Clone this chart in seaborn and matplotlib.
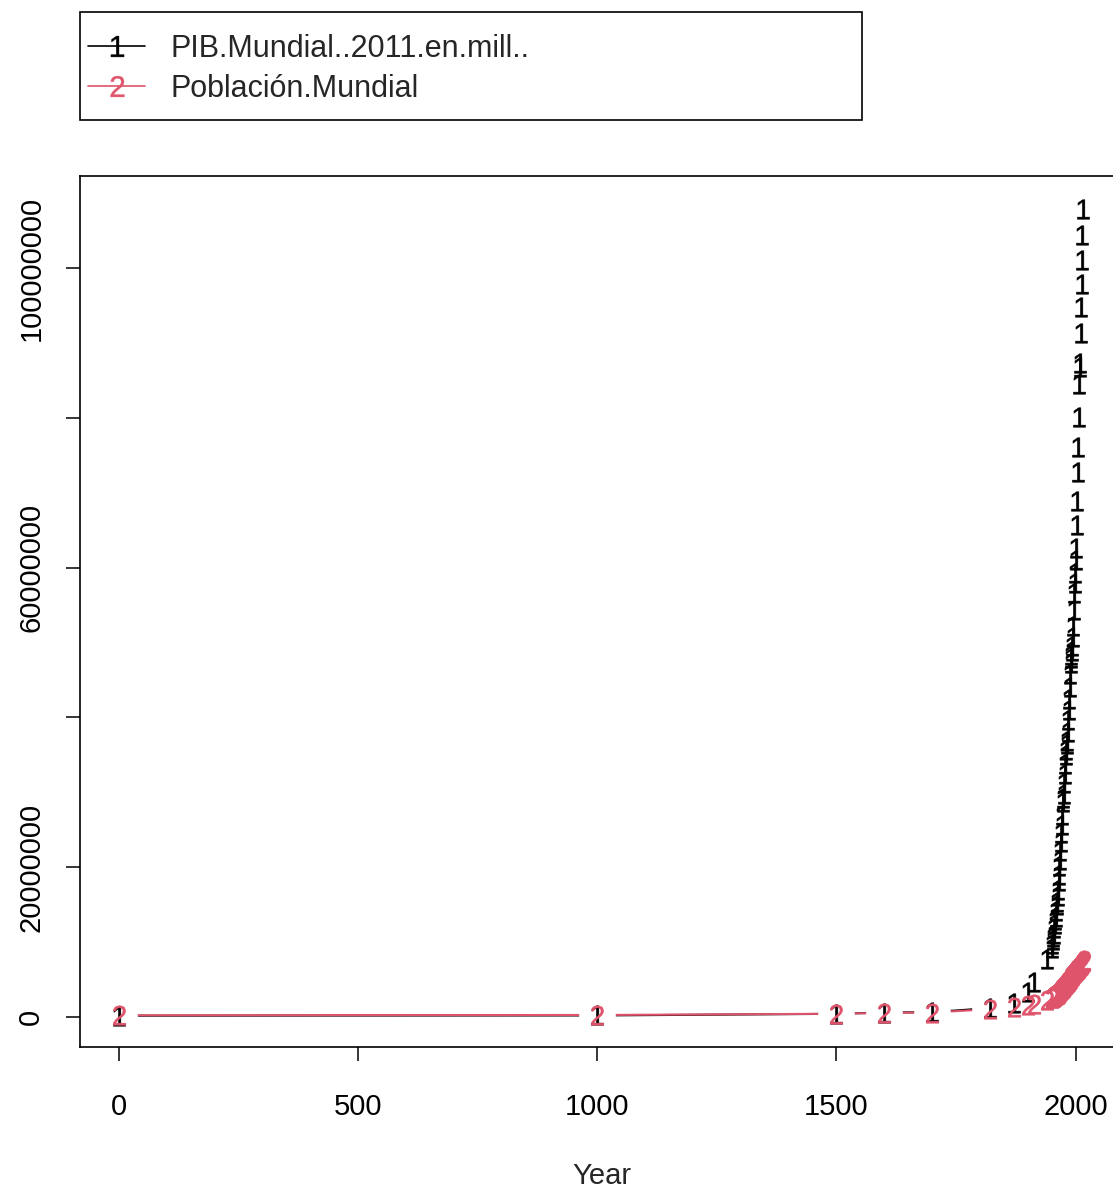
import numpy as np
import pandas as pd
import matplotlib
matplotlib.use("Agg")
import matplotlib.pyplot as plt
from matplotlib.lines import Line2D
from matplotlib.patches import Rectangle
import seaborn as sns

# ---------------- data ----------------
years = [1, 1000, 1500, 1600, 1700, 1820, 1870, 1900, 1913, 1940,
         1950, 1951, 1952, 1953, 1954, 1955, 1956, 1957, 1958, 1959,
         1960, 1961, 1962, 1963, 1964, 1965, 1966, 1967, 1968, 1969,
         1970, 1971, 1972, 1973, 1974, 1975, 1976, 1977, 1978, 1979,
         1980, 1981, 1982, 1983, 1984, 1985, 1986, 1987, 1988, 1989,
         1990, 1991, 1992, 1993, 1994, 1995, 1996, 1997, 1998, 1999,
         2000, 2001, 2002, 2003, 2004, 2005, 2006, 2007, 2008, 2009,
         2010, 2011, 2012, 2013, 2014, 2015, 2016, 2017, 2018]

# PIB mundial (millones, dólares de 2011)
pib_mundial = [182000, 210000, 430000, 600000, 643000, 1200000, 1900000, 3400000, 4700000, 7800000,
               9250000, 9800000, 10250000, 10750000, 11150000, 11850000, 12400000, 12900000, 13300000, 14100000,
               14900000, 15400000, 16200000, 17000000, 18100000, 19000000, 20100000, 20900000, 22100000, 23400000,
               24600000, 25600000, 27000000, 28700000, 29300000, 29800000, 31200000, 32400000, 33800000, 35000000,
               35700000, 36400000, 36900000, 38000000, 39700000, 41000000, 42400000, 44000000, 45800000, 47200000,
               47900000, 48300000, 48900000, 49600000, 50800000, 52200000, 54300000, 56600000, 57900000, 59300000,
               61000000, 62600000, 65700000, 68900000, 72800000, 76100000, 80100000, 84500000, 86800000, 87300000,
               91300000, 94800000, 97900000, 101100000, 104400000, 107900000, np.nan, np.nan, np.nan]

# Población mundial (miles)
poblacion_mundial = [230000, 275000, 438000, 556000, 603000, 1042000, 1276000, 1563000, 1793000, 2299000,
                     2536000, 2584000, 2631000, 2678000, 2727000, 2777000, 2830000, 2885000, 2941000, 2996000,
                     3032000, 3077000, 3129000, 3195000, 3263000, 3331000, 3400000, 3469000, 3540000, 3614000,
                     3700000, 3775000, 3851000, 3927000, 4002000, 4076000, 4148000, 4220000, 4293000, 4375000,
                     4458000, 4536000, 4617000, 4698000, 4778000, 4871000, 4950000, 5037000, 5125000, 5212000,
                     5327000, 5418000, 5504000, 5587000, 5670000, 5751000, 5831000, 5911000, 5990000, 6068000,
                     6143000, 6218000, 6292000, 6367000, 6441000, 6517000, 6593000, 6669000, 6747000, 6826000,
                     6907000, 6988000, 7070000, 7152000, 7235000, 7320000, 7404000, 7488000, 7578000]

series_names = ["PIB.Mundial..2011.en.mill..", "Población.Mundial"]
series_glyphs = ["1", "2"]
series_colors = ["#000000", "#DF536B"]

x_ticks = [0, 500, 1000, 1500, 2000]
y_ticks = [0, 20000000, 40000000, 60000000, 80000000, 100000000]
y_tick_labels = ["0", "20000000", "", "60000000", "", "100000000"]

# --------------- style ----------------
sns.set_style("ticks")
plt.rcParams["font.family"] = ["Liberation Sans", "DejaVu Sans"]
plt.rcParams["mathtext.fontset"] = "custom"
plt.rcParams["mathtext.rm"] = "Liberation Sans"
plt.rcParams["mathtext.it"] = "Liberation Sans"
plt.rcParams["mathtext.bf"] = "Liberation Sans"

W, H = 1113, 1190
fig = plt.figure(figsize=(W / 100, H / 100), dpi=100, facecolor="white")
ax = fig.add_axes([80 / W, (H - 1047) / H, (1123 - 80) / W, (1047 - 176) / H])

df = pd.DataFrame({"Year": years,
                   series_names[0]: pib_mundial,
                   series_names[1]: poblacion_mundial})
long = df.melt(id_vars="Year", var_name="serie", value_name="valor").dropna()

# lines (type = "b")
for i, name in enumerate(series_names):
    sub = long[long["serie"] == name]
    sns.lineplot(data=sub, x="Year", y="valor", color=series_colors[i], linewidth=1.5,
                 estimator=None, sort=False, ax=ax, legend=False, zorder=1 + i)

# white gaps around points
sns.scatterplot(data=long, x="Year", y="valor", color="white", marker="o", s=26 ** 2,
                linewidth=0, ax=ax, legend=False, zorder=3)

# numbered point glyphs
for i, name in enumerate(series_names):
    sub = long[long["serie"] == name]
    sns.scatterplot(data=sub, x="Year", y="valor", color=series_colors[i],
                    edgecolor=series_colors[i],
                    marker="$" + series_glyphs[i] + "$", s=14 ** 2, linewidth=0.35,
                    ax=ax, legend=False, zorder=4 + i)

ax.set_xlim(-80.7, 2098.7)
ax.set_ylim(-4.0e6, 1.1228e8)
ax.set_xticks(x_ticks)
ax.set_xticklabels([str(t) for t in x_ticks])
ax.set_yticks(y_ticks)
ax.set_yticklabels(y_tick_labels, rotation=90, va="center")
ax.tick_params(axis="both", direction="out", length=10, width=1.1, colors="black",
               labelsize=21)
ax.tick_params(axis="x", pad=23)
ax.tick_params(axis="y", pad=15)
ax.set_xlabel("Year", fontsize=21, labelpad=30)
ax.set_ylabel("")
for sp in ax.spines.values():
    sp.set_visible(True)
    sp.set_color("black")
    sp.set_linewidth(1.2)

# legend
handles = [Line2D([], [], color=series_colors[i], linewidth=1.2,
                  marker="$" + series_glyphs[i] + "$", markersize=15,
                  markeredgewidth=0.3, markeredgecolor=series_colors[i])
           for i in range(2)]
fig.legend(handles, series_names, loc="upper left",
           bbox_to_anchor=(88 / W, 1 - 34 / H), frameon=False, fontsize=22,
           handlelength=1.87, handletextpad=0.82, labelspacing=0.32, borderpad=0,
           borderaxespad=0)
fig.add_artist(Rectangle((80 / W, 1 - 120 / H), 782 / W, 108 / H, transform=fig.transFigure,
                         fill=False, edgecolor="black", linewidth=1.2))

fig.savefig("out.png", dpi=100, facecolor="white")
